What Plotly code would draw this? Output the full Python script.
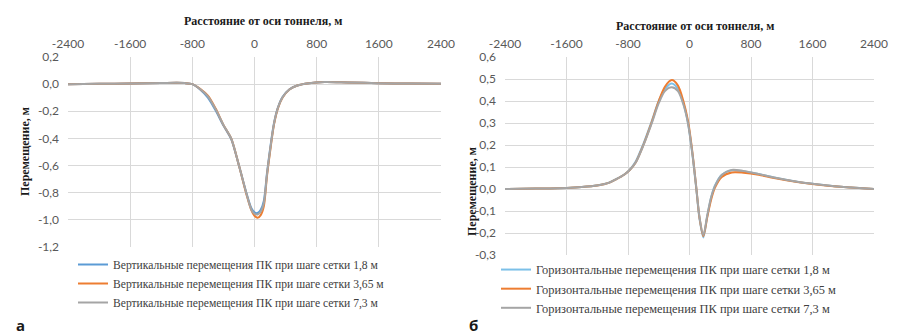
import plotly.graph_objects as go
from plotly.subplots import make_subplots

# ---------- data: vertical displacements (left panel) ----------
dist_v = [-2400, -2000, -1600, -1200, -1000, -900, -800, -700, -600, -500, -400, -300,
          -200, -100, -40, 0, 40, 80, 120, 160, 200, 250, 300, 360, 450, 550, 700,
          900, 1200, 1600, 2000, 2400]
vert_18 = [0.0, 0.002, 0.004, 0.008, 0.010, 0.008, 0.0, -0.040, -0.100, -0.195, -0.305, -0.405,
           -0.600, -0.810, -0.915, -0.945, -0.950, -0.925, -0.860, -0.660, -0.480, -0.290, -0.175,
           -0.095, -0.038, -0.010, 0.007, 0.015, 0.012, 0.007, 0.004, 0.003]
vert_365 = [0.0, 0.002, 0.004, 0.008, 0.010, 0.008, 0.0, -0.035, -0.085, -0.180, -0.300, -0.400,
            -0.600, -0.820, -0.930, -0.970, -0.985, -0.965, -0.900, -0.680, -0.500, -0.300, -0.180,
            -0.100, -0.040, -0.010, 0.007, 0.015, 0.012, 0.007, 0.004, 0.003]
vert_73 = [0.0, 0.002, 0.004, 0.008, 0.010, 0.008, 0.0, -0.036, -0.090, -0.185, -0.300, -0.400,
           -0.600, -0.815, -0.925, -0.955, -0.960, -0.940, -0.880, -0.670, -0.490, -0.295, -0.178,
           -0.098, -0.040, -0.010, 0.007, 0.015, 0.012, 0.007, 0.004, 0.003]

# ---------- data: horizontal displacements (right panel) ----------
dist_h = [-2400, -2000, -1600, -1400, -1200, -1050, -950, -850, -780, -700, -600, -500, -400,
          -320, -230, -150, -80, -20, 40, 90, 130, 180, 230, 280, 330, 420, 550, 700, 900,
          1100, 1400, 1800, 2100, 2400]
horz_18 = [0.0, 0.002, 0.005, 0.009, 0.017, 0.029, 0.046, 0.066, 0.087, 0.125, 0.205, 0.300, 0.400,
           0.455, 0.480, 0.455, 0.390, 0.300, 0.150, -0.005, -0.135, -0.220, -0.125, -0.040, 0.015,
           0.065, 0.085, 0.080, 0.068, 0.052, 0.033, 0.016, 0.007, 0.0]
horz_365 = [0.0, 0.002, 0.005, 0.009, 0.016, 0.028, 0.045, 0.065, 0.085, 0.120, 0.200, 0.295, 0.400,
            0.465, 0.495, 0.470, 0.400, 0.310, 0.160, 0.000, -0.130, -0.215, -0.130, -0.050, 0.005,
            0.055, 0.075, 0.074, 0.065, 0.050, 0.032, 0.015, 0.007, 0.0]
horz_73 = [0.0, 0.002, 0.005, 0.009, 0.016, 0.028, 0.045, 0.065, 0.085, 0.120, 0.198, 0.290, 0.390,
           0.445, 0.462, 0.445, 0.385, 0.300, 0.155, 0.000, -0.128, -0.210, -0.122, -0.040, 0.012,
           0.064, 0.087, 0.082, 0.068, 0.052, 0.033, 0.016, 0.007, 0.0]

x_ticks = [-2400, -1600, -800, 0, 800, 1600, 2400]
x_tick_text = ["-2400", "-1600", "-800", "0", "800", "1600", "2400"]
v_ticks = [0.2, 0.0, -0.2, -0.4, -0.6, -0.8, -1.0, -1.2]
v_tick_text = ["0,2", "0,0", "-0,2", "-0,4", "-0,6", "-0,8", "-1,0", "-1,2"]
h_ticks = [0.6, 0.5, 0.4, 0.3, 0.2, 0.1, 0.0, -0.1, -0.2, -0.3]
h_tick_text = ["0,6", "0,5", "0,4", "0,3", "0,2", "0,1", "0,0", "-0,1", "-0,2", "-0,3"]

v_names = ["Вертикальные перемещения ПК при шаге сетки 1,8 м",
           "Вертикальные перемещения ПК при шаге сетки 3,65 м",
           "Вертикальные перемещения ПК при шаге сетки 7,3 м"]
h_names = ["Горизонтальные перемещения ПК при шаге сетки 1,8 м",
           "Горизонтальные перемещения ПК при шаге сетки 3,65 м",
           "Горизонтальные перемещения ПК при шаге сетки 7,3 м"]

v_colors = ["#5B9BD5", "#ED7D31", "#A5A5A5"]
h_colors = ["#7CC0E8", "#ED7D31", "#A5A5A5"]

W, H = 900, 335
SERIF = "Liberation Serif, Times New Roman, DejaVu Serif, serif"

fig = make_subplots(rows=1, cols=2)

for i, (ys, name) in enumerate(zip([vert_18, vert_365, vert_73], v_names)):
    fig.add_trace(go.Scatter(x=dist_v, y=ys, name=name, mode="lines",
                             line=dict(color=v_colors[i], width=2, shape="spline", smoothing=0.8),
                             legend="legend"), row=1, col=1)

for i, (ys, name) in enumerate(zip([horz_18, horz_365, horz_73], h_names)):
    fig.add_trace(go.Scatter(x=dist_h, y=ys, name=name, mode="lines",
                             line=dict(color=h_colors[i], width=2, shape="spline", smoothing=0.8),
                             legend="legend2"), row=1, col=2)

tick_font = dict(family="Lato", size=12, color="#595959")
grid = "#D9D9D9"

common_x = dict(side="top", tickvals=x_ticks, ticktext=x_tick_text, range=[-2400, 2400],
                showgrid=True, gridcolor=grid, gridwidth=1, zeroline=False, ticks="",
                tickfont=tick_font, ticklabelstandoff=6, showline=False, automargin=False)
fig.update_xaxes(domain=[68 / W, 441 / W], **common_x, row=1, col=1)
fig.update_xaxes(domain=[505 / W, 874 / W], **common_x, row=1, col=2)

common_y = dict(showgrid=True, gridcolor=grid, zeroline=False, ticks="", tickfont=tick_font,
                ticklabelstandoff=8, automargin=False)
fig.update_yaxes(domain=[1 - 247 / H, 1 - 57 / H], range=[-1.2, 0.2], tickvals=v_ticks,
                 ticktext=v_tick_text, **common_y, row=1, col=1)
fig.update_yaxes(domain=[1 - 255 / H, 1 - 57 / H], range=[-0.3, 0.6], tickvals=h_ticks,
                 ticktext=h_tick_text, **common_y, row=1, col=2)

title_font = dict(family=SERIF, size=12, color="#1a1a1a")

annotations = [
    dict(text="<b>Расстояние от оси тоннеля, м</b>", x=263 / W, y=1 - 21 / H),
    dict(text="<b>Расстояние от оси тоннеля, м</b>", x=695 / W, y=1 - 26 / H),
    dict(text="<b>Перемещение, м</b>", x=25 / W, y=1 - 152 / H, textangle=-90),
    dict(text="<b>Перемещение, м</b>", x=472 / W, y=1 - 192 / H, textangle=-90),
]
for a in annotations:
    fig.add_annotation(xref="paper", yref="paper", showarrow=False, xanchor="center",
                       yanchor="middle", font=title_font, **a)

panel_font = dict(family="Open Sans", size=15, color="#1a1a1a")
fig.add_annotation(text="<b>а</b>", x=20 / W, y=1 - 325 / H, xref="paper", yref="paper",
                   showarrow=False, xanchor="center", yanchor="middle", font=panel_font)
fig.add_annotation(text="<b>б</b>", x=474 / W, y=1 - 325 / H, xref="paper", yref="paper",
                   showarrow=False, xanchor="center", yanchor="middle", font=panel_font)

fig.update_layout(
    width=W, height=H,
    margin=dict(l=0, r=0, t=0, b=0),
    paper_bgcolor="white", plot_bgcolor="white",
    showlegend=True,
    legend=dict(x=73 / W, y=1 - 250 / H, xanchor="left", yanchor="top",
                font=dict(family=SERIF, size=11.6, color="#404040"),
                bgcolor="rgba(0,0,0,0)", itemwidth=30),
    legend2=dict(x=496 / W, y=1 - 255 / H, xanchor="left", yanchor="top",
                 font=dict(family=SERIF, size=12.4, color="#404040"),
                 bgcolor="rgba(0,0,0,0)", itemwidth=30),
)

fig.write_html("out.html")
